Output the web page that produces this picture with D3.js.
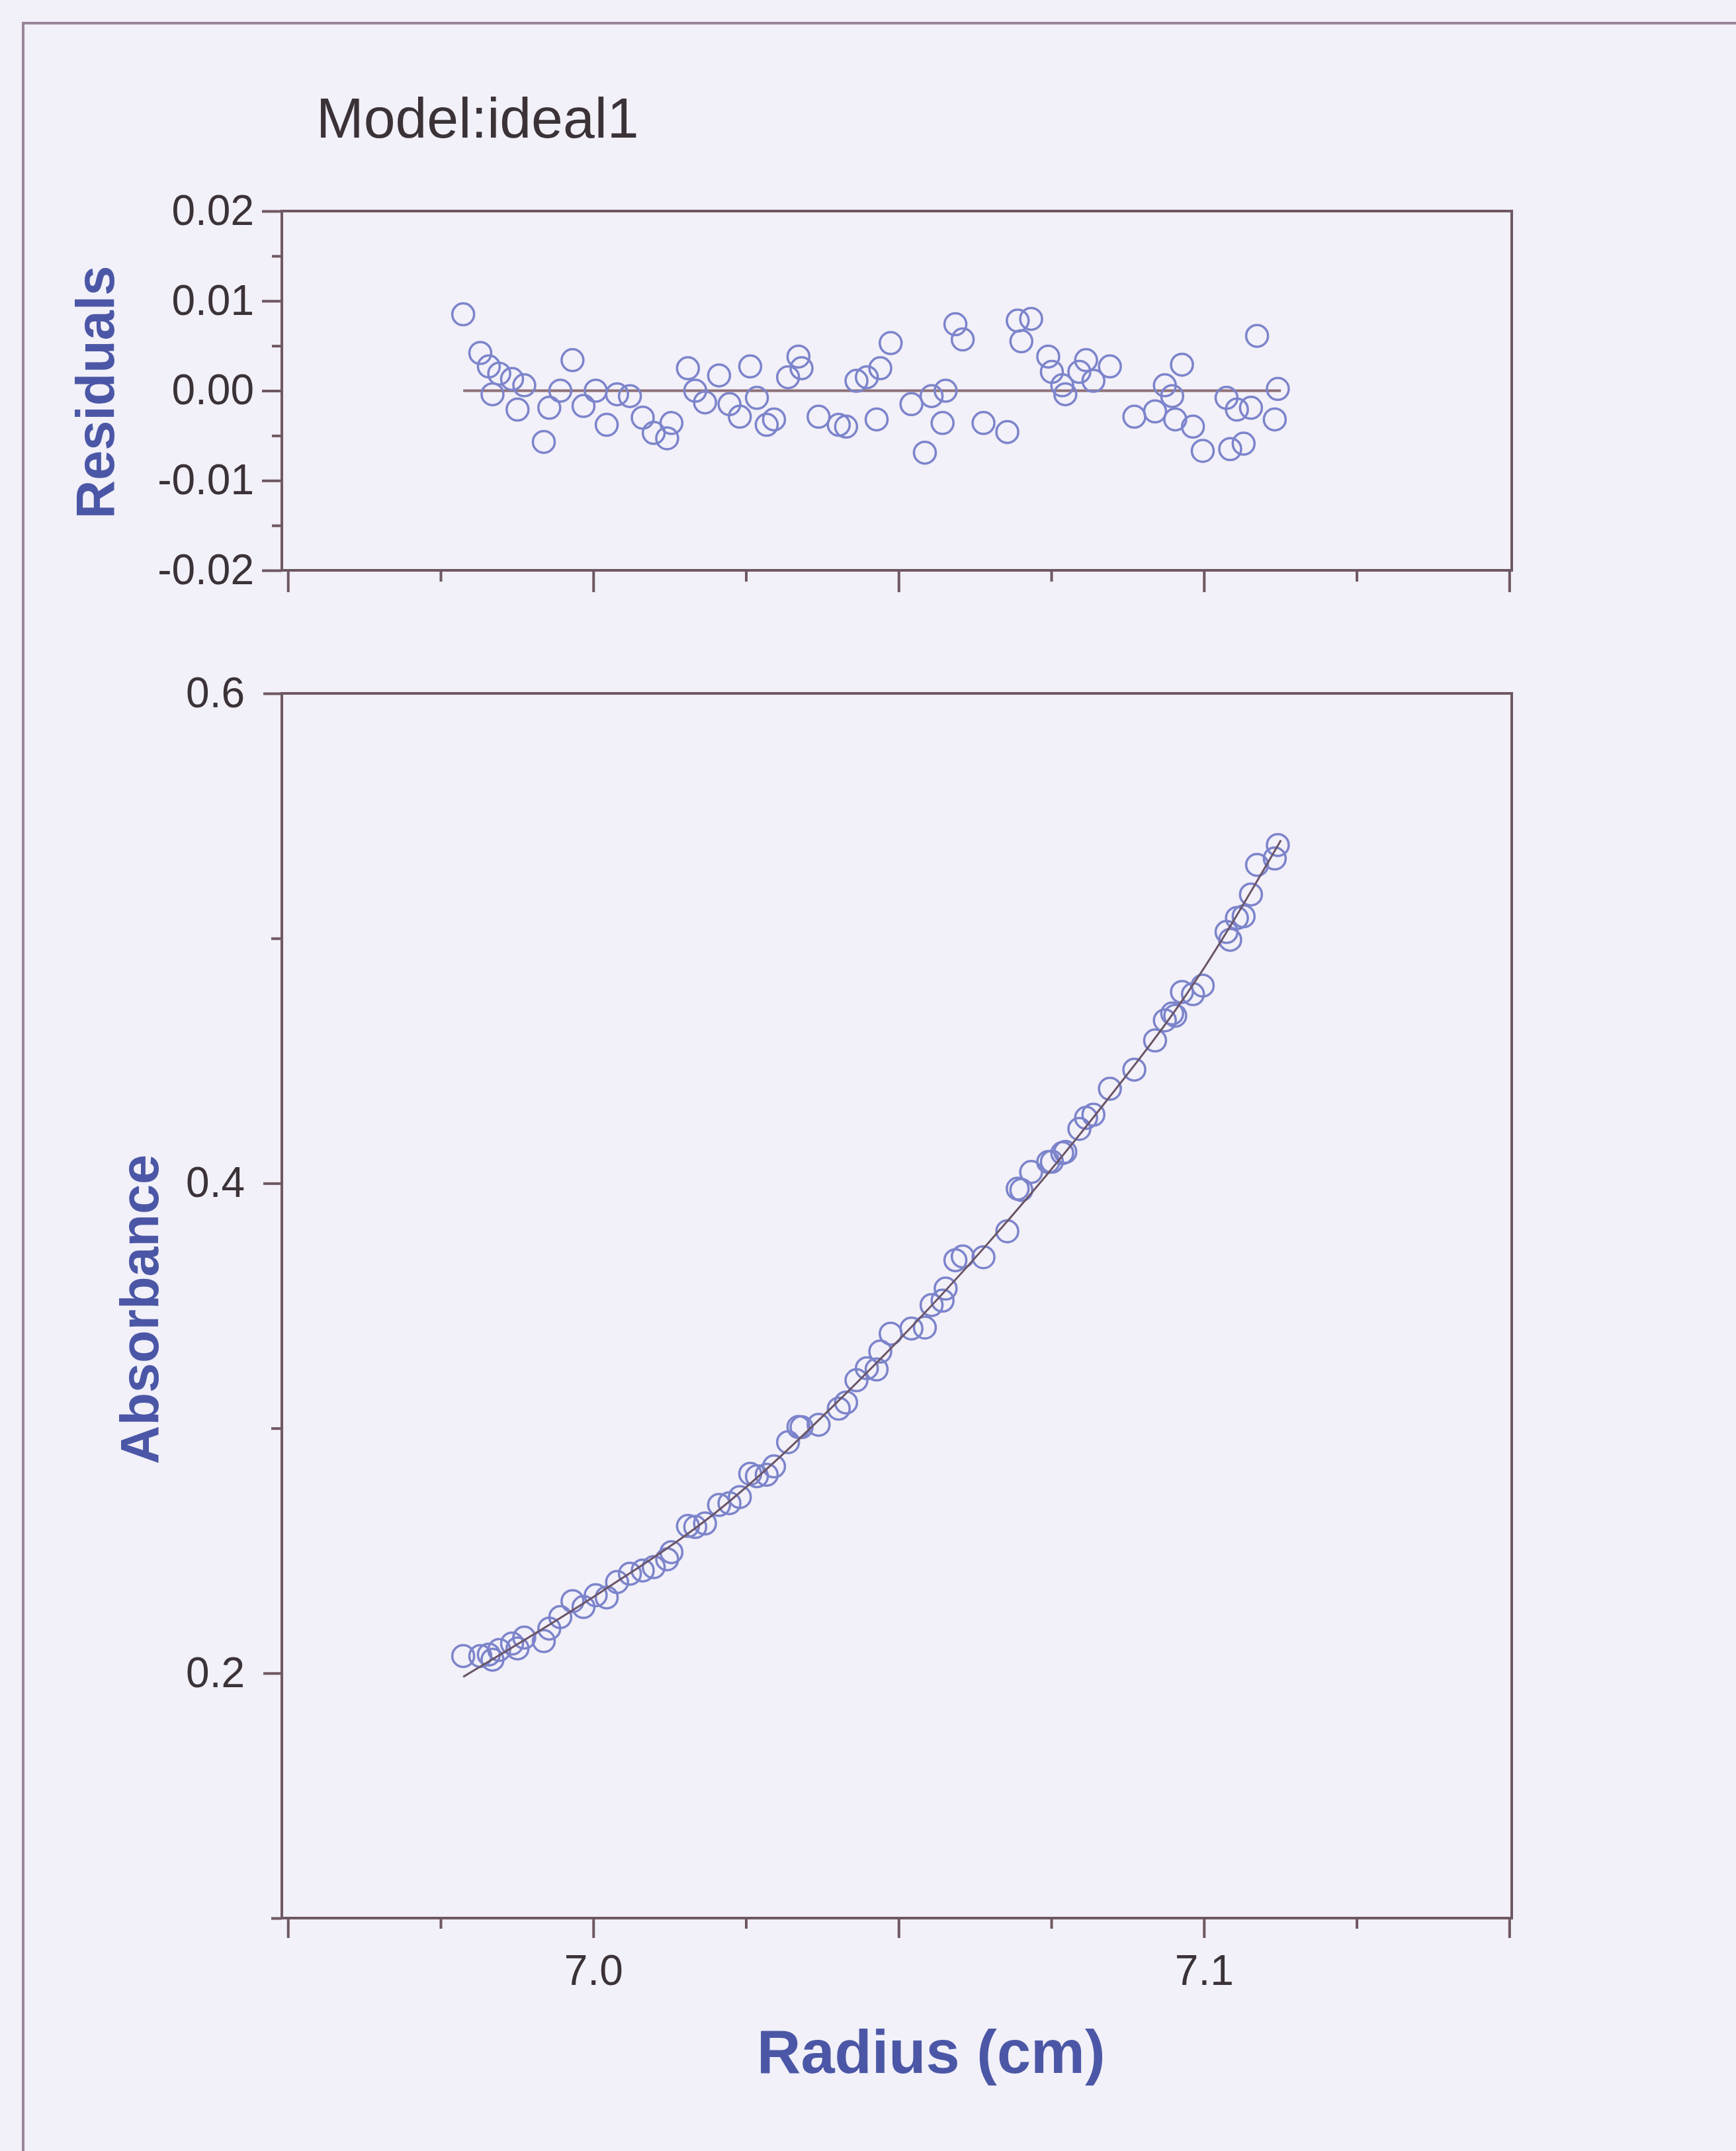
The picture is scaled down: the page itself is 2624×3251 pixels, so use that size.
<!DOCTYPE html>
<html>
<head>
<meta charset="utf-8">
<script src="https://cdn.jsdelivr.net/npm/d3@7/dist/d3.min.js"></script>
<style>
  body { margin: 0; background: #f3f1f9; }
  .axis path { display: none; }
  .axis line { stroke: #6e5862; stroke-width: 4px; }
  .axis text { font-family: "Liberation Sans", Arial, sans-serif; font-size: 64px; fill: #3b3237; }
  .frame { fill: none; stroke: #6e5862; stroke-width: 4px; }
  .label { font-family: "Liberation Sans", Arial, sans-serif; font-weight: bold; fill: #4b57a6; }
</style>
</head>
<body>
<div id="chart"></div>
<script>
// radial positions of the scan (cm)
var radius = [
  6.9787, 6.9815, 6.9829, 6.9835, 6.9846, 6.9867, 6.9876, 6.9887, 6.9919, 6.9928,
  6.9946, 6.9966, 6.9984, 7.0004, 7.0022, 7.0039, 7.0060, 7.0081, 7.0099, 7.0121,
  7.0128, 7.0155, 7.0167, 7.0183, 7.0206, 7.0223, 7.0240, 7.0257, 7.0268, 7.0284,
  7.0296, 7.0319, 7.0336, 7.0341, 7.0369, 7.0402, 7.0414, 7.0431, 7.0448, 7.0464,
  7.0470, 7.0487, 7.0521, 7.0543, 7.0554, 7.0572, 7.0577, 7.0593, 7.0605, 7.0639,
  7.0678, 7.0695, 7.0701, 7.0717, 7.0745, 7.0751, 7.0768, 7.0773, 7.0796, 7.0807,
  7.0819, 7.0846, 7.0886, 7.0920, 7.0936, 7.0948, 7.0953, 7.0964, 7.0982, 7.0998,
  7.1037, 7.1043, 7.1054, 7.1065, 7.1077, 7.1087, 7.1116, 7.1121
];

var absorbance = [
  0.2070, 0.2070, 0.2076, 0.2055, 0.2095, 0.2121, 0.2101, 0.2145, 0.2131, 0.2182,
  0.2229, 0.2294, 0.2270, 0.2318, 0.2309, 0.2372, 0.2406, 0.2419, 0.2433, 0.2465,
  0.2494, 0.2601, 0.2597, 0.2611, 0.2687, 0.2694, 0.2719, 0.2814, 0.2804, 0.2810,
  0.2844, 0.2943, 0.3005, 0.3004, 0.3014, 0.3080, 0.3105, 0.3196, 0.3245, 0.3240,
  0.3313, 0.3386, 0.3407, 0.3411, 0.3503, 0.3521, 0.3570, 0.3686, 0.3701, 0.3698,
  0.3804, 0.3978, 0.3973, 0.4046, 0.4087, 0.4088, 0.4123, 0.4128, 0.4222, 0.4267,
  0.4280, 0.4386, 0.4464, 0.4583, 0.4665, 0.4693, 0.4684, 0.4781, 0.4772, 0.4807,
  0.5026, 0.4994, 0.5083, 0.5090, 0.5179, 0.5300, 0.5326, 0.5381
];

var residuals = [
  0.0085, 0.0042, 0.0027, -0.0004, 0.0019, 0.0013, -0.0021, 0.0006, -0.0057, -0.0019,
  0.0000, 0.0034, -0.0017, 0.0000, -0.0038, -0.0004, -0.0006, -0.0030, -0.0047, -0.0053,
  -0.0036, 0.0025, 0.0000, -0.0013, 0.0017, -0.0015, -0.0029, 0.0027, -0.0008, -0.0038,
  -0.0032, 0.0015, 0.0038, 0.0025, -0.0029, -0.0038, -0.0040, 0.0011, 0.0015, -0.0032,
  0.0025, 0.0053, -0.0015, -0.0069, -0.0006, -0.0036, 0.0000, 0.0074, 0.0057, -0.0036,
  -0.0046, 0.0078, 0.0055, 0.0080, 0.0038, 0.0021, 0.0006, -0.0004, 0.0021, 0.0034,
  0.0011, 0.0027, -0.0029, -0.0023, 0.0006, -0.0006, -0.0032, 0.0029, -0.0040, -0.0067,
  -0.0008, -0.0065, -0.0021, -0.0059, -0.0019, 0.0061, -0.0032, 0.0002
];

// fitted model curve (ideal1)
var fitRadius = [6.9787, 7.0015, 7.0195, 7.0430, 7.0639, 7.0818, 7.0987, 7.1126];
var fitAbsorbance = [0.1985, 0.2335, 0.2645, 0.3182, 0.3734, 0.4266, 0.4829, 0.5400];
var zeroLine = [6.9787, 7.1126];

var xTicksMajor = [6.95, 7.0, 7.05, 7.1, 7.15];
var xTicksMinor = [6.975, 7.025, 7.075, 7.125];
var xTickLabels = [7.0, 7.1];
var absTicksMajor = [0.2, 0.4, 0.6];
var absTicksMinor = [0.1, 0.3, 0.5];
var resTicksMajor = [-0.02, -0.01, 0.0, 0.01, 0.02];
var resTicksMinor = [-0.015, -0.005, 0.005, 0.015];

var width = 2624,
  height = 3251,
  plotLeft = 426,
  plotRight = 2285,
  res = {top: 319, bottom: 862},
  main = {top: 1048, bottom: 2899},
  dotColor = "#7c84cb";

var svg = d3.select("#chart").append("svg")
  .attr("width", width)
  .attr("height", height);

svg.append("rect")
  .attr("width", width)
  .attr("height", height)
  .attr("fill", "#f2f0f8");

// outer frame of the figure panel (runs off the page)
svg.append("rect")
  .attr("x", 35)
  .attr("y", 35)
  .attr("width", 3000)
  .attr("height", 4000)
  .attr("fill", "none")
  .attr("stroke", "#98869a")
  .attr("stroke-width", 4);

var xScale = d3.scaleLinear()
  .domain([6.949, 7.1504])
  .range([plotLeft, plotRight]);

var yRes = d3.scaleLinear()
  .domain([-0.02, 0.02])
  .range([res.bottom, res.top]);

var yAbs = d3.scaleLinear()
  .domain([0.1, 0.6])
  .range([main.bottom, main.top]);

// plain hyphen for negatives, as in the original software
var resFormat = function(d) { return d3.format(".2f")(d).replace("\u2212", "-"); };

var resData = radius.map(function(r, i) { return {r: r, v: residuals[i]}; });
var absData = radius.map(function(r, i) { return {r: r, v: absorbance[i]}; });
var fitData = fitRadius.map(function(r, i) { return {r: r, v: fitAbsorbance[i]}; });

// ---- residual panel ----
var gRes = svg.append("g");

gRes.append("rect")
  .attr("class", "frame")
  .attr("x", plotLeft)
  .attr("y", res.top)
  .attr("width", plotRight - plotLeft)
  .attr("height", res.bottom - res.top);

gRes.append("g")
  .attr("class", "axis")
  .attr("transform", "translate(" + plotLeft + ",0)")
  .call(d3.axisLeft(yRes).tickValues(resTicksMinor).tickSize(15).tickFormat(""));

gRes.append("g")
  .attr("class", "axis")
  .attr("transform", "translate(" + plotLeft + ",0)")
  .call(d3.axisLeft(yRes).tickValues(resTicksMajor).tickSize(30).tickPadding(12)
    .tickFormat(resFormat));

gRes.append("g")
  .attr("class", "axis")
  .attr("transform", "translate(0," + res.bottom + ")")
  .call(d3.axisBottom(xScale).tickValues(xTicksMinor).tickSize(17).tickFormat(""));

gRes.append("g")
  .attr("class", "axis")
  .attr("transform", "translate(0," + res.bottom + ")")
  .call(d3.axisBottom(xScale).tickValues(xTicksMajor).tickSize(33).tickFormat(""));

gRes.append("line")
  .attr("x1", xScale(zeroLine[0]))
  .attr("x2", xScale(zeroLine[1]))
  .attr("y1", yRes(0))
  .attr("y2", yRes(0))
  .attr("stroke", "#8e7077")
  .attr("stroke-width", 4);

gRes.selectAll(".dot")
  .data(resData)
  .enter().append("circle")
    .attr("class", "dot")
    .attr("cx", function(d) { return xScale(d.r); })
    .attr("cy", function(d) { return yRes(d.v); })
    .attr("r", 16.5)
    .attr("fill", "none")
    .attr("stroke", dotColor)
    .attr("stroke-width", 3.5);

// ---- absorbance panel ----
var gMain = svg.append("g");

gMain.append("rect")
  .attr("class", "frame")
  .attr("x", plotLeft)
  .attr("y", main.top)
  .attr("width", plotRight - plotLeft)
  .attr("height", main.bottom - main.top);

gMain.append("g")
  .attr("class", "axis")
  .attr("transform", "translate(" + plotLeft + ",0)")
  .call(d3.axisLeft(yAbs).tickValues(absTicksMinor).tickSize(16).tickFormat(""));

gMain.append("g")
  .attr("class", "axis")
  .attr("transform", "translate(" + plotLeft + ",0)")
  .call(d3.axisLeft(yAbs).tickValues(absTicksMajor).tickSize(28).tickPadding(28)
    .tickFormat(d3.format(".1f")));

gMain.append("g")
  .attr("class", "axis")
  .attr("transform", "translate(0," + main.bottom + ")")
  .call(d3.axisBottom(xScale).tickValues(xTicksMinor).tickSize(16).tickFormat(""));

gMain.append("g")
  .attr("class", "axis")
  .attr("transform", "translate(0," + main.bottom + ")")
  .call(d3.axisBottom(xScale).tickValues(xTicksMajor).tickSize(30).tickPadding(26)
    .tickFormat(function(d) {
      return xTickLabels.indexOf(d) >= 0 ? d3.format(".1f")(d) : "";
    }));

var line = d3.line()
  .x(function(d) { return xScale(d.r); })
  .y(function(d) { return yAbs(d.v); })
  .curve(d3.curveMonotoneX);

gMain.selectAll(".dot")
  .data(absData)
  .enter().append("circle")
    .attr("class", "dot")
    .attr("cx", function(d) { return xScale(d.r); })
    .attr("cy", function(d) { return yAbs(d.v); })
    .attr("r", 16.5)
    .attr("fill", "none")
    .attr("stroke", dotColor)
    .attr("stroke-width", 3.5);

gMain.append("path")
  .datum(fitData)
  .attr("d", line)
  .attr("fill", "none")
  .attr("stroke", "#6a5566")
  .attr("stroke-width", 3);

// ---- titles ----
svg.append("text")
  .attr("x", 478)
  .attr("y", 208)
  .style("font-family", "'Liberation Sans', Arial, sans-serif")
  .style("font-size", "86px")
  .style("fill", "#3b3237")
  .text("Model:ideal1");

svg.append("text")
  .attr("class", "label")
  .attr("transform", "translate(172,593) rotate(-90)")
  .attr("text-anchor", "middle")
  .style("font-size", "81px")
  .text("Residuals");

svg.append("text")
  .attr("class", "label")
  .attr("transform", "translate(239,1979) rotate(-90)")
  .attr("text-anchor", "middle")
  .style("font-size", "81px")
  .text("Absorbance");

svg.append("text")
  .attr("class", "label")
  .attr("x", 1144)
  .attr("y", 3133)
  .style("font-size", "92px")
  .text("Radius (cm)");
</script>
</body>
</html>
